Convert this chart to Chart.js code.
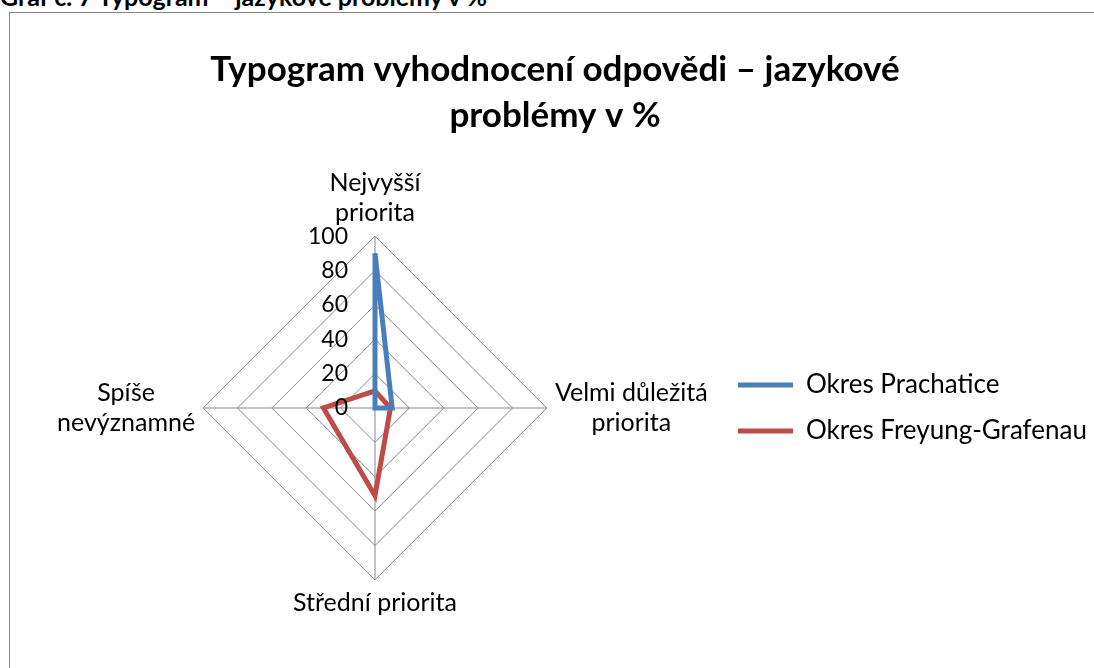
<!DOCTYPE html>
<html lang="cs">
<head>
<meta charset="utf-8">
<title>Typogram - jazykové problémy</title>
<script src="https://cdn.jsdelivr.net/npm/chart.js@4.4.1/dist/chart.umd.min.js"></script>
<style>
  html, body { margin: 0; padding: 0; background: #fff; overflow: hidden; }
  body { width: 1094px; height: 668px; position: relative; }
  .caption {
    position: absolute; left: 0; top: -16px;
    font: bold 25px Lato, sans-serif; line-height: 25px; color: #000;
    white-space: nowrap;
  }
  .chart-box {
    position: absolute; left: 9px; top: 12px;
    width: 1094px; height: 660px;
    border: 1px solid #868686;
  }
</style>
</head>
<body>
<div class="caption">Graf č. 7 Typogram – jazykové problémy v %</div>
<div class="chart-box"><canvas id="typogram" width="1094" height="660"></canvas></div>
<script>
// Categories (clockwise from the top)
const categories = [
  ['Nejvyšší', 'priorita'],
  ['Velmi důležitá', 'priorita'],
  'Střední priorita',
  ['Spíše', 'nevýznamné'],
];

// Values in %
const prachatice = [90, 10, 0, 0];
const freyungGrafenau = [10, 9, 51, 30];

const seriesNames = ['Okres Prachatice', 'Okres Freyung-Grafenau'];
const tickValues = [0, 20, 40, 60, 80, 100];

const gridColor = '#868686';
const font = 'Lato';
const labelSize = 25;

// Tick labels left of the vertical axis (right aligned), and point labels
// with every line centred in the box the scale reserved for it
const radarText = {
  id: 'radarText',
  afterDatasetsDraw(chart) {
    const scale = chart.scales.r;
    const { ctx } = chart;
    ctx.save();
    ctx.fillStyle = '#000';
    ctx.textBaseline = 'middle';

    ctx.font = `23px ${font}`;
    ctx.textAlign = 'right';
    tickValues.forEach((v) => {
      const d = scale.getDistanceFromCenterForValue(v);
      ctx.fillText(String(v), scale.xCenter - 27, scale.yCenter - d);
    });

    ctx.font = `${labelSize}px ${font}`;
    ctx.textAlign = 'center';
    const lineHeight = labelSize * 1.2;
    categories.forEach((label, i) => {
      const box = scale.getPointLabelPosition(i);
      const lines = [].concat(label);
      const cx = (box.left + box.right) / 2;
      lines.forEach((line, j) => {
        ctx.fillText(line, cx, box.top + lineHeight * (j + 0.5));
      });
    });
    ctx.restore();
  },
};

// The legend is narrower than its text on purpose (keeps the title centred);
// let the text run past the legend box instead of being clipped
const legendOverflow = {
  id: 'legendOverflow',
  afterLayout(chart) {
    if (chart.legend) chart.legend.right = chart.width;
  },
};

const chart = new Chart(document.getElementById('typogram'), {
  type: 'radar',
  data: {
    labels: categories,
    datasets: [
      {
        label: seriesNames[0],
        data: prachatice,
        borderColor: '#4a7ebb',
        backgroundColor: '#4a7ebb',
        borderWidth: 5,
        borderJoinStyle: 'miter',
        borderCapStyle: 'round',
        fill: false,
        pointRadius: 0,
      },
      {
        label: seriesNames[1],
        data: freyungGrafenau,
        borderColor: '#be4b48',
        backgroundColor: '#be4b48',
        borderWidth: 5,
        borderJoinStyle: 'miter',
        borderCapStyle: 'round',
        fill: false,
        pointRadius: 0,
      },
    ],
  },
  options: {
    responsive: false,
    animation: false,
    layout: {
      padding: { left: 37, right: 41, top: 0, bottom: 40 },
    },
    elements: { line: { tension: 0 } },
    scales: {
      r: {
        min: 0,
        max: 100,
        ticks: { stepSize: 20, display: false },
        grid: { color: gridColor, lineWidth: 1, circular: false },
        angleLines: { color: gridColor, lineWidth: 1 },
        pointLabels: {
          color: 'rgba(0,0,0,0)',
          padding: 8,
          font: { family: font, size: labelSize },
        },
      },
    },
    plugins: {
      title: {
        display: true,
        text: ['Typogram vyhodnocení odpovědi – jazykové', 'problémy v %'],
        color: '#000',
        font: { family: font, size: 35, weight: 'bold', lineHeight: 1.33 },
        padding: { top: 33, bottom: 14 },
      },
      legend: {
        position: 'right',
        fullSize: false,
        maxWidth: 345,
        title: {
          display: true,
          text: '',
          font: { size: 10 },
          padding: { top: 18, bottom: 0 },
        },
        labels: {
          color: '#000',
          font: { family: font, size: 26 },
          usePointStyle: true,
          pointStyle: 'line',
          pointStyleWidth: 55,
          padding: 20,
        },
      },
      tooltip: { enabled: false },
    },
  },
  plugins: [radarText, legendOverflow],
});
</script>
</body>
</html>
